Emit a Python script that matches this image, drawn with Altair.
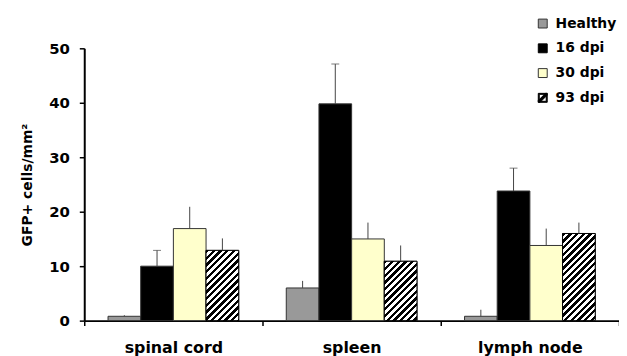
import math
import altair as alt
import pandas as pd

categories = ["spinal cord", "spleen", "lymph node"]
series = ["Healthy", "16 dpi", "30 dpi", "93 dpi"]
healthy = [0.8, 6.0, 0.8]
dpi16 = [10.0, 39.8, 23.8]
dpi30 = [16.9, 15.0, 13.8]
dpi93 = [12.9, 10.9, 16.0]
err_healthy = [0.2, 1.3, 1.2]
err_dpi16 = [2.9, 7.3, 4.2]
err_dpi30 = [4.0, 3.0, 3.1]
err_dpi93 = [2.2, 2.9, 2.0]
colors = ["#999999", "#000000", "#FFFFCC", "#000000"]

FONT = "DejaVu Sans"
W, H = 540, 275
YMAX = 50
BAR_W = 33.0

vals = [healthy, dpi16, dpi30, dpi93]
errs = [err_healthy, err_dpi16, err_dpi30, err_dpi93]
rows = []
for s, v, e in zip(series, vals, errs):
    for c, vv, ee in zip(categories, v, e):
        rows.append({"cat": c, "series": s, "value": vv, "top": vv + ee})
df = pd.DataFrame(rows)

x_enc = alt.X("cat:N", sort=categories,
              scale=alt.Scale(paddingInner=0, paddingOuter=0),
              axis=alt.Axis(title=None, tickBand="extent", labelAngle=0,
                            labelPadding=14, labelFontSize=16))
xo_enc = alt.XOffset("series:N", sort=series,
                     scale=alt.Scale(paddingInner=0, paddingOuter=0.7273))
y_scale = alt.Scale(domain=[0, YMAX], nice=False)
y_enc = alt.Y("value:Q", scale=y_scale,
              axis=alt.Axis(title="GFP+ cells/mm²", values=[0, 10, 20, 30, 40, 50],
                            titlePadding=14, labelFontSize=15, labelPadding=10))

legend = alt.Legend(title=None, orient="none", legendX=456, legendY=-32,
                    symbolSize=81, symbolStrokeWidth=1,
                    symbolOpacity=1, labelFont=FONT, labelFontWeight="bold",
                    labelFontSize=14, rowPadding=11, labelOffset=6, padding=0)
color_enc = alt.Color("series:N", sort=series,
                      scale=alt.Scale(domain=series, range=colors), legend=legend)
stroke_enc = alt.Stroke("series:N", sort=series,
                        scale=alt.Scale(domain=series,
                                        range=["#333333", "#000000", "#333333", "#000000"]),
                        legend=legend)

hatch_path = ("M-1,-1H1V1H-1Z M-0.78,-0.78V0.78H0.78V-0.78Z "
              "M-1,0.6L0.6,-1L1,-1L1,-0.6L-0.6,1L-1,1Z")
shape_enc = alt.Shape("series:N", sort=series,
                      scale=alt.Scale(domain=series,
                                      range=["square", "square", "square", hatch_path]),
                      legend=legend)

base = alt.Chart(df)

bars = base.mark_bar(stroke="#333333", strokeWidth=1).encode(
    x=x_enc, xOffset=xo_enc, y=y_enc, color=color_enc)

pts = base.mark_point(filled=True, opacity=0, strokeWidth=1).encode(
    x=x_enc, xOffset=xo_enc, y=y_enc, color=color_enc, shape=shape_enc,
    stroke=stroke_enc)


def hatch_gradient(value):
    w = BAR_W
    h = value * H / YMAX
    t = (w + h) / (w * w + h * h)
    L = (w + h) / math.sqrt(2)
    P = 4.8
    blk = 0.5
    stops = []
    k = 0.0
    while k * P < L:
        a = k * P / L
        b = min((k * P + P * blk) / L, 1.0)
        c = min((k + 1) * P / L, 1.0)
        stops += [{"offset": a, "color": "black"}, {"offset": b, "color": "black"},
                  {"offset": b, "color": "white"}, {"offset": c, "color": "white"}]
        k += 1
    return {"gradient": "linear", "x1": 0, "y1": 0, "x2": w * t, "y2": h * t,
            "stops": stops}


hatch_layers = []
for c, v in zip(categories, dpi93):
    hatch_layers.append(
        base.transform_filter(
            (alt.datum.series == "93 dpi") & (alt.datum.cat == c)
        ).mark_bar(fill=hatch_gradient(v), stroke="black", strokeWidth=1).encode(
            x=x_enc, xOffset=xo_enc, y=y_enc)
    )

err_rules = base.mark_rule(color="#444444", strokeWidth=1).encode(
    x=x_enc, xOffset=xo_enc, y=alt.Y("value:Q", scale=y_scale), y2="top:Q")

caps = base.transform_filter(alt.datum.series == "16 dpi").mark_tick(
    color="#444444", thickness=1, size=8).encode(
    x=x_enc, xOffset=xo_enc, y=alt.Y("top:Q", scale=y_scale))

chart = alt.layer(bars, *hatch_layers, err_rules, caps, pts).properties(
    width=W, height=H,
    autosize=alt.AutoSizeParams(type="none"),
    padding={"left": 77, "top": 39, "right": 0, "bottom": 34},
).configure_view(stroke=None).configure_axis(
    grid=False, domainColor="black", domainWidth=2, tickColor="black",
    tickSize=5, tickWidth=1.5, labelFont=FONT, labelFontWeight="bold",
    labelColor="black", titleFont=FONT, titleFontWeight="bold",
    titleFontSize=14, titleColor="black",
)

chart.save("out.html", embed_options={"renderer": "svg", "actions": False})
